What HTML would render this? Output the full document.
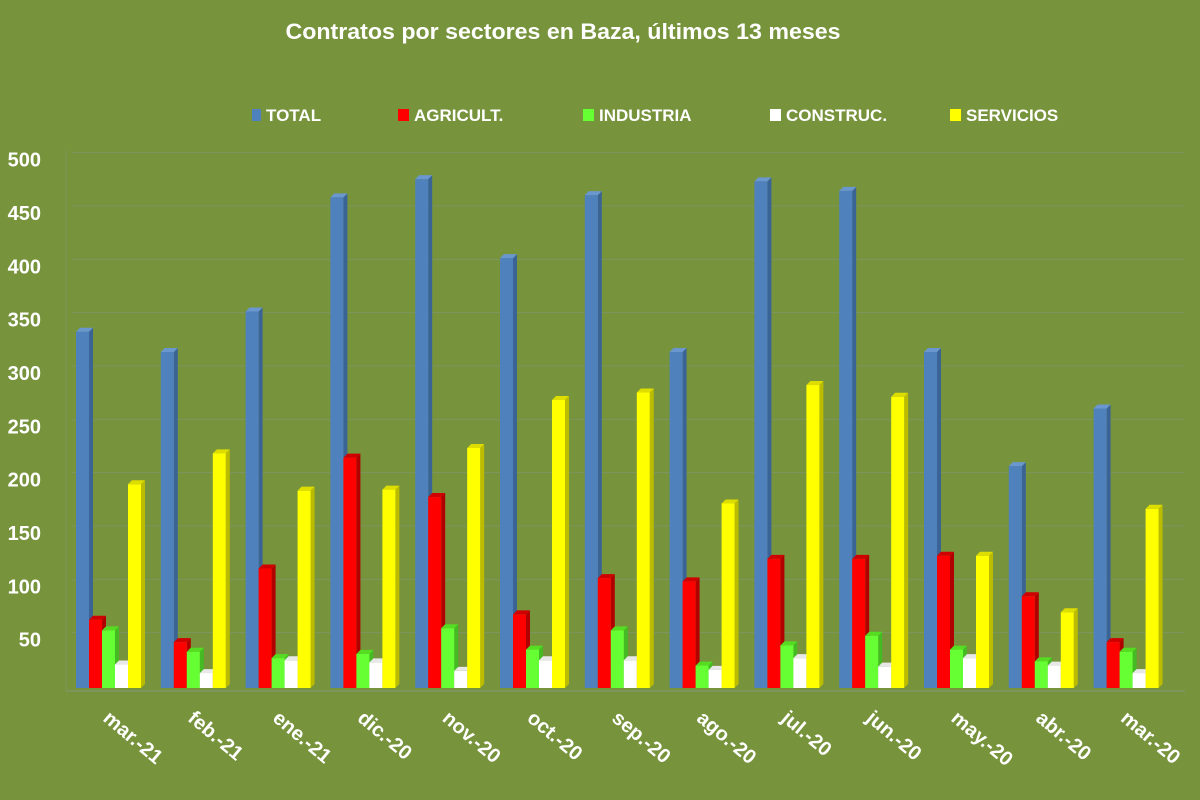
<!DOCTYPE html>
<html><head><meta charset="utf-8"><style>
html,body{margin:0;padding:0;background:#77933C;}
svg{display:block;font-family:"Liberation Sans",sans-serif;font-weight:bold;fill:#fff;}
</style></head><body>
<svg id="c" width="1200" height="800" xmlns="http://www.w3.org/2000/svg">
<rect width="1200" height="800" fill="#77933C"/>
<text x="563" y="39" text-anchor="middle" font-size="22" fill="#fff" textLength="555" lengthAdjust="spacingAndGlyphs">Contratos por sectores en Baza, últimos 13 meses</text>
<g font-size="17" fill="#fff">
<rect x="252" y="109" width="9" height="12" fill="#4F81BD"/><text x="266" y="121">TOTAL</text>
<rect x="398" y="109" width="11" height="12" fill="#FF0000"/><text x="414" y="121">AGRICULT.</text>
<rect x="583" y="109" width="11" height="12" fill="#66FF33"/><text x="599" y="121">INDUSTRIA</text>
<rect x="770" y="109" width="11" height="12" fill="#FFFFFF"/><text x="786" y="121">CONSTRUC.</text>
<rect x="950" y="109" width="11" height="12" fill="#FFFF00"/><text x="966" y="121">SERVICIOS</text>
</g>
<g id="grid"></g>
<g id="yl" font-size="20" fill="#fff" text-anchor="end"></g>
<g id="bars"></g>
<g id="xl" font-size="20" fill="#fff"></g>
</svg>
<script>
var ns="http://www.w3.org/2000/svg";
function el(p,t,a,txt){var e=document.createElementNS(ns,t);for(var k in a)e.setAttribute(k,a[k]);if(txt)e.textContent=txt;document.getElementById(p).appendChild(e);return e;}
var k=1.0667, base=688;
for(var v=50;v<=500;v+=50){var y=base-3-v*k;
 el("grid","line",{x1:72,x2:1185,y1:y+1,y2:y+1,stroke:"#8a9aa0","stroke-width":1,"stroke-opacity":0.35});
 el("yl","text",{x:41,y:base+12-v*k},String(v));}
el("grid","line",{x1:66,x2:1185,y1:691,y2:691,stroke:"#8a9aa0","stroke-opacity":0.6});
el("grid","line",{x1:66,x2:66,y1:150,y2:691,stroke:"#8a9aa0","stroke-opacity":0.3});
var labels=["mar.-21","feb.-21","ene.-21","dic.-20","nov.-20","oct.-20","sep.-20","ago.-20","jul.-20","jun.-20","may.-20","abr.-20","mar.-20"];
var d=[[334,64,54,22,191],[315,43,34,14,220],[353,112,28,26,185],[460,216,32,24,186],[477,179,56,16,225],[403,69,36,26,270],[462,103,54,26,277],[315,100,21,17,173],[475,121,40,28,284],[466,121,49,20,273],[315,124,36,28,124],[208,86,25,21,71],[262,43,34,14,168]];
var cols=[["#4F81BD","#3A6496","#6A97CF"],["#FF0000","#B00000","#D00000"],["#66FF33","#44BB22","#55DD22"],["#FFFFFF","#CCCCCC","#E8E8E8"],["#FFFF00","#BBBB00","#DDDD00"]];
for(var g=0;g<13;g++){var x0=76+g*84.8;
 for(var s=0;s<5;s++){var x=x0+s*13,h=d[g][s]*k,t=base-h;var c=cols[s];
  el("bars","polygon",{points:(x+13)+","+t+" "+(x+17)+","+(t-4)+" "+(x+17)+","+(base-4)+" "+(x+13)+","+base,fill:c[1]});
  el("bars","polygon",{points:x+","+t+" "+(x+4)+","+(t-4)+" "+(x+17)+","+(t-4)+" "+(x+13)+","+t,fill:c[2]});
  el("bars","rect",{x:x,y:t,width:13,height:h,fill:c[0]});}
 var lx=102+g*84.8;
 el("xl","text",{x:0,y:0,transform:"translate("+lx+",720) rotate(40)"},labels[g]);}
</script>
</body></html>
